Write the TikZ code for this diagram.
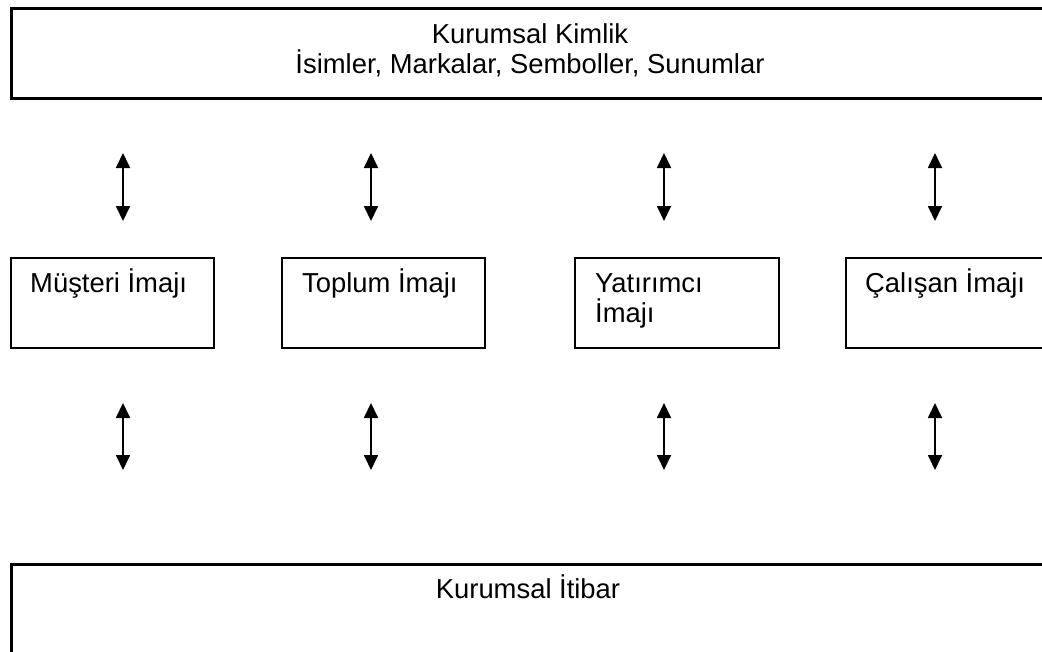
\documentclass[tikz,border=0pt]{standalone}
\usepackage{fontspec}
\setmainfont{Liberation Sans}
\usetikzlibrary{arrows.meta}
\begin{document}
\begin{tikzpicture}[x=1pt,y=-1pt,
  txt/.style={inner sep=0pt, font=\fontsize{27.4}{30}\selectfont},
  frame/.style={draw=black, line width=2.6pt, rectangle, inner sep=0pt, anchor=north west},
  imgbox/.style={draw=black, line width=1.8pt, rectangle, inner sep=0pt, anchor=north west,
    minimum height=90pt},
  link/.style={line width=1.8pt,
    {Triangle[width=14pt,length=15pt]}-{Triangle[width=14pt,length=15pt]}}]
\useasboundingbox (0,0) rectangle (1042,651);
\clip (0,0) rectangle (1042,651);

% top frame: corporate identity
\node[frame, minimum width=1040pt, minimum height=90pt] (kimlik) at (10,7) {};
\node[txt, anchor=base] (kimlikT1) at (530,43) {Kurumsal Kimlik};
\node[txt, anchor=base] (kimlikT2) at (530,73) {İsimler, Markalar, Semboller, Sunumlar};

% four image boxes
\node[imgbox, minimum width=203pt] (musteri) at (10,257) {};
\node[txt, anchor=base west] at (30,292) {Müşteri İmajı};
\node[imgbox, minimum width=203pt] (toplum) at (281,257) {};
\node[txt, anchor=base west] at (302,292) {Toplum İmajı};
\node[imgbox, minimum width=204pt] (yatirimci) at (574,257) {};
\node[txt, anchor=base west] at (595,292) {Yatırımcı};
\node[txt, anchor=base west] at (595,322) {İmajı};
\node[imgbox, minimum width=204pt] (calisan) at (845,257) {};
\node[txt, anchor=base west] at (865,292) {Çalışan İmajı};

% bottom frame: corporate reputation
\node[frame, minimum width=1040pt, minimum height=120pt] (itibar) at (10,563) {};
\node[txt, anchor=base] (itibarT) at (528,598) {Kurumsal İtibar};

% double-headed arrows
\foreach \n/\x in {a/123, b/371, c/664, d/935}{
  \coordinate (u\n1) at (\x,153);
  \coordinate (u\n2) at (\x,221);
  \coordinate (l\n1) at (\x,403);
  \coordinate (l\n2) at (\x,470);
  \draw[link] (u\n1) -- (u\n2);
  \draw[link] (l\n1) -- (l\n2);
}
\end{tikzpicture}
\end{document}
